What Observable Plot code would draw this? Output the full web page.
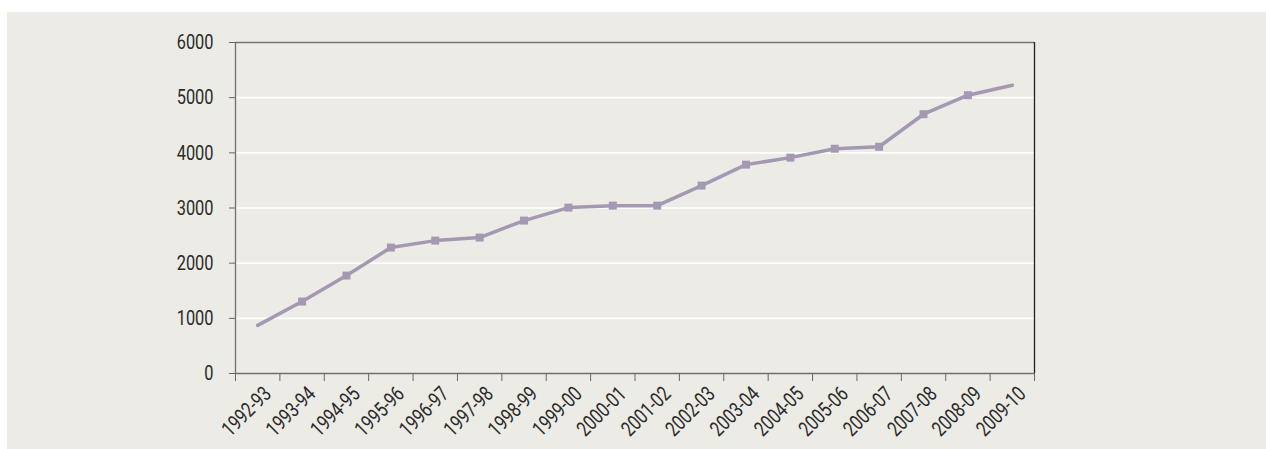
<!DOCTYPE html>
<html>
<head>
<meta charset="utf-8">
<script src="https://cdn.jsdelivr.net/npm/d3@7"></script>
<script src="https://cdn.jsdelivr.net/npm/@observablehq/plot@0.6"></script>
<style>
  html, body { margin: 0; padding: 0; background: #ffffff; }
  #wrap { position: relative; width: 1266px; height: 449px; overflow: hidden; }
  #panel { position: absolute; left: 7px; top: 12px; right: 0; bottom: 0; background: #ECEBE5; }
  #chart { position: absolute; left: 0; top: 0; }
</style>
</head>
<body>
<div id="wrap"><div id="panel"></div><div id="chart"></div></div>
<script>
const categories = ["1992-93","1993-94","1994-95","1995-96","1996-97","1997-98","1998-99","1999-00","2000-01","2001-02","2002-03","2003-04","2004-05","2005-06","2006-07","2007-08","2008-09","2009-10"];
const values = [873, 1304, 1775, 2283, 2409, 2464, 2772, 3007, 3043, 3043, 3406, 3786, 3913, 4074, 4110, 4700, 5045, 5225];
const yTicks = [0, 1000, 2000, 3000, 4000, 5000, 6000];
const gridTicks = [1000, 2000, 3000, 4000, 5000];

const data = categories.map((c, i) => ({i, c, v: values[i]}));
const markers = data.slice(1, -1);
const bounds = d3.range(categories.length + 1).map(k => k - 0.5);
const lineColor = "#A598B3";
const font = "Roboto, 'Liberation Sans', sans-serif";

const chart = Plot.plot({
  width: 1266,
  height: 449,
  marginLeft: 235,
  marginRight: 232,
  marginTop: 42,
  marginBottom: 76,
  style: {background: "transparent", fontFamily: font, fontSize: "21px", color: "#2a2a2a"},
  x: {type: "linear", domain: [-0.5, categories.length - 0.5], axis: null},
  y: {domain: [0, 6000], axis: null},
  marks: [
    Plot.gridY(gridTicks, {stroke: "#ffffff", strokeOpacity: 1, strokeWidth: 1.6}),
    Plot.ruleY([6000], {stroke: "#757575", strokeWidth: 1.3}),
    Plot.ruleX([categories.length - 0.5], {stroke: "#222222", strokeWidth: 1.3}),
    Plot.axisY(yTicks, {tickSize: 6, tickPadding: 16, tickFormat: d => String(d), stroke: "#666", fill: "#2a2a2a", fontSize: 21, label: null}),
    Plot.axisX(bounds, {tickSize: 8, tickFormat: () => "", stroke: "#666", label: null}),
    Plot.ruleX([-0.5], {stroke: "#707070", strokeWidth: 1.3}),
    Plot.ruleY([0], {stroke: "#707070", strokeWidth: 1.3}),
    Plot.text(data, {x: "i", y: 0, text: "c", rotate: -45, textAnchor: "end", lineAnchor: "middle", dx: 10, dy: 17, fill: "#2a2a2a", fontSize: 21}),
    Plot.lineY(data, {x: "i", y: "v", stroke: lineColor, strokeWidth: 3.5}),
    Plot.dot(markers, {x: "i", y: "v", symbol: "square", r: 4.5, fill: lineColor, stroke: "none"})
  ]
});
document.getElementById("chart").appendChild(chart);
// emulate the condensed typeface of the original
chart.querySelectorAll("text").forEach(t => {
  const L = t.getComputedTextLength();
  if (L > 0) {
    t.setAttribute("textLength", (L * 0.78).toFixed(2));
    t.setAttribute("lengthAdjust", "spacingAndGlyphs");
  }
});
</script>
</body>
</html>
